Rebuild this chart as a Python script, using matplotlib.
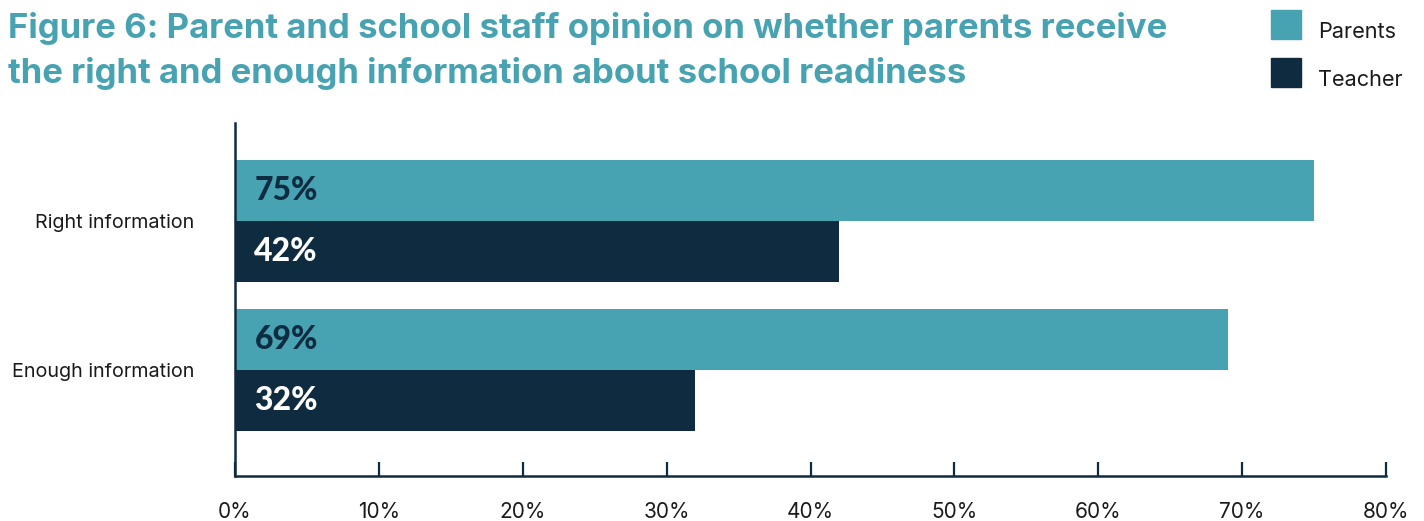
import matplotlib
matplotlib.use("Agg")
import matplotlib.pyplot as plt
from matplotlib.patches import Rectangle
from matplotlib.ticker import FuncFormatter
import numpy as np

categories = ["Right information", "Enough information"]
series = ["Parents", "Teacher"]
parents = [75, 69]
teacher = [42, 32]
xticks = [0, 10, 20, 30, 40, 50, 60, 70, 80]
title_lines = ["Figure 6: Parent and school staff opinion on whether parents receive",
               "the right and enough information about school readiness"]

C_PARENT = "#47A2B2"
C_TEACH = "#0E2B40"
C_TITLE = "#47A2B2"
C_TEXT = "#1A1A1A"

F_HEAD = ["Inter", "DejaVu Sans"]
F_VAL = ["Lato", "DejaVu Sans"]
F_BODY = ["Inter", "DejaVu Sans"]

W, H = 1424, 521
fig = plt.figure(figsize=(W / 100, H / 100), dpi=100)

# axes placed in pixel terms
left, right, top, bottom = 235, 1386, 123, 476
ax = fig.add_axes([left / W, 1 - bottom / H, (right - left) / W, (bottom - top) / H])

y = np.arange(len(categories))
bh = 0.41
ax.barh(y - bh / 2, parents, height=bh, color=C_PARENT, label=series[0])
ax.barh(y + bh / 2, teacher, height=bh, color=C_TEACH, label=series[1])

for i in range(len(categories)):
    ax.text(1.35, y[i] - bh / 2, f"{parents[i]}%", ha="left", va="center",
            fontsize=23, fontweight="black", family=F_VAL, color=C_TEACH)
    ax.text(1.35, y[i] + bh / 2, f"{teacher[i]}%", ha="left", va="center",
            fontsize=23, fontweight="black", family=F_VAL, color="white")

ax.set_xlim(0, 80)
ax.set_ylim(1.711, -0.658)
ax.set_xticks(xticks)
ax.xaxis.set_major_formatter(FuncFormatter(lambda v, p: f"{v:.0f}%"))
ax.set_yticks(y)
ax.set_yticklabels(categories, family=F_BODY, fontsize=14.2, color=C_TEXT)
ax.tick_params(axis="y", length=0, pad=29)
ax.tick_params(axis="x", direction="in", length=10, width=1.6, color=C_TEACH,
               pad=19, labelsize=15, labelcolor=C_TEXT)
for lbl in ax.get_xticklabels():
    lbl.set_family(F_BODY)

for s in ["top", "right"]:
    ax.spines[s].set_visible(False)
for s in ["left", "bottom"]:
    ax.spines[s].set_linewidth(1.8)
    ax.spines[s].set_color(C_TEACH)

# title, two lines on fixed baselines
for k, line in enumerate(title_lines):
    fig.text(8 / W, 1 - (38 + 45 * k) / H, line, ha="left", va="baseline",
             fontsize=25, fontweight="bold", family=F_HEAD, color=C_TITLE)

# legend
for k, (name, col) in enumerate(zip(series, [C_PARENT, C_TEACH])):
    yc = 24 + k * 48
    fig.patches.append(Rectangle((1271 / W, 1 - (yc + 15) / H), 30 / W, 29 / H,
                                 transform=fig.transFigure, color=col))
    fig.text(1318 / W, 1 - (yc + 8) / H, name, ha="left", va="center",
             fontsize=15.6, family=F_BODY, color=C_TEXT)

fig.savefig("out.png", dpi=100)
